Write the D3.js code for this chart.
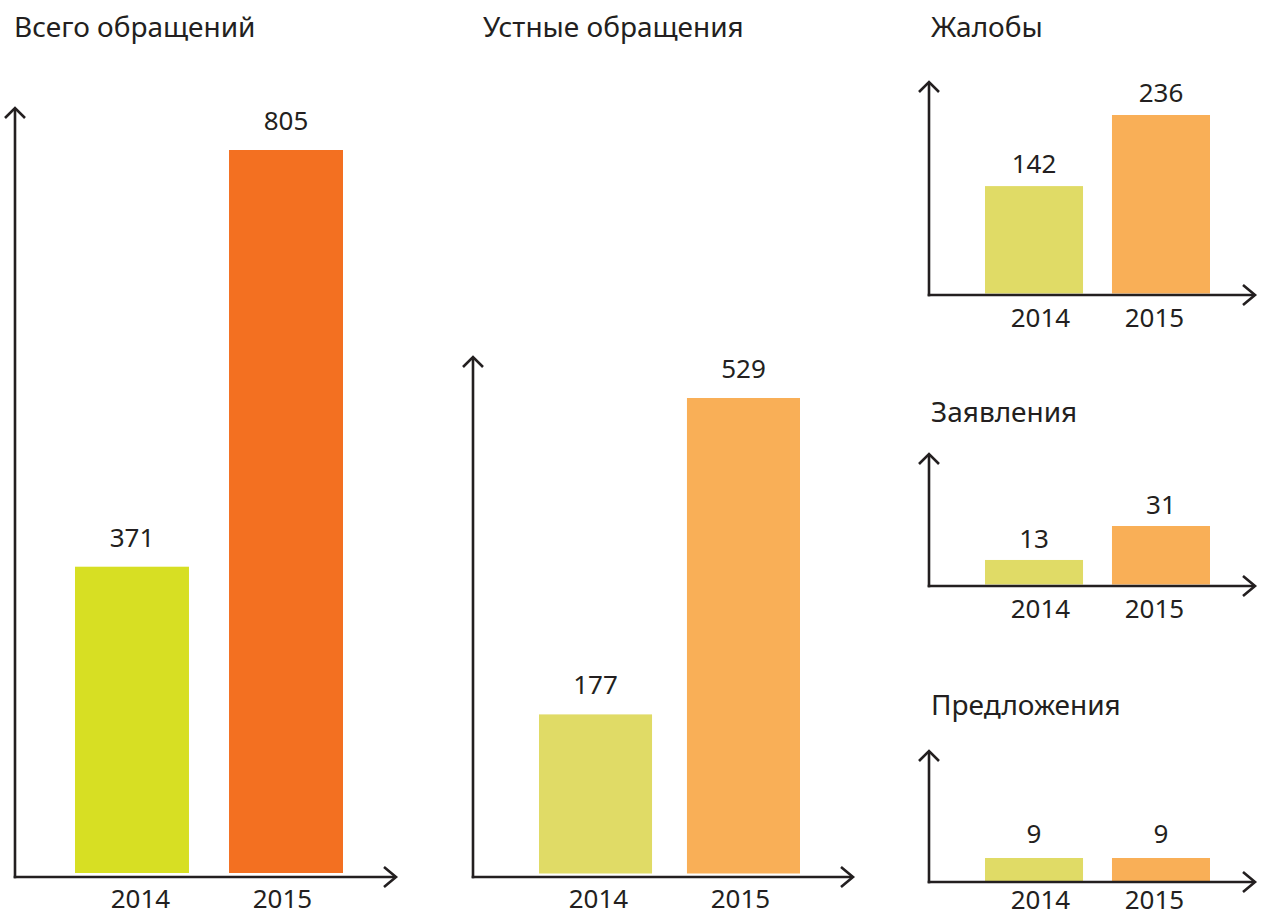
<!DOCTYPE html>
<html><head><meta charset="utf-8">
<script src="https://cdn.jsdelivr.net/npm/d3@7"></script>
<style>body{margin:0;background:#fff}svg{display:block}</style>
</head><body><svg id="c" width="1268" height="916"></svg>
<script>
// ---- data ----
const years = ["2014", "2015"];
const titles = ["Всего обращений", "Устные обращения", "Жалобы", "Заявления", "Предложения"];
const totalValues = [371, 805];
const oralValues = [177, 529];
const complaintValues = [142, 236];
const applicationValues = [13, 31];
const proposalValues = [9, 9];
const seriesValues = [totalValues, oralValues, complaintValues, applicationValues, proposalValues];

// ---- layout / style ----
const ink = "#231f20";
const font = "'Noto Sans', sans-serif";
const layout = [
  {titleX:14, titleY:37, axisX:15, arrowTop:108, axisY:877, arrowRight:396, bars:[75,343], pad:0.26,
   dom:[52,805], rng:[873,150], ticks:[140,282], tickY:908, gap:20, colors:["#d7df23","#f37021"]},
  {titleX:483, titleY:37, axisX:473, arrowTop:357, axisY:877, arrowRight:853, bars:[539,800], pad:0.236,
   dom:[0,529], rng:[873.5,398], ticks:[598,740], tickY:908, gap:20, colors:["#e0db66","#f9af57"]},
  {titleX:931, titleY:37, axisX:929, arrowTop:82, axisY:295, arrowRight:1255, bars:[985,1210], pad:0.228,
   dom:[0,236], rng:[293.5,115], ticks:[1040,1154], tickY:327, gap:13, colors:["#e0db66","#f9af57"]},
  {titleX:931, titleY:422, axisX:929, arrowTop:454, axisY:586, arrowRight:1255, bars:[985,1210], pad:0.228,
   dom:[0,31], rng:[584.5,526], ticks:[1040,1154], tickY:618, gap:12, colors:["#e0db66","#f9af57"]},
  {titleX:931, titleY:715, axisX:929, arrowTop:751, axisY:882, arrowRight:1255, bars:[985,1210], pad:0.228,
   dom:[0,9], rng:[881,858], ticks:[1040,1154], tickY:909, gap:15, colors:["#e0db66","#f9af57"]}
];

const svg = d3.select("#c");

layout.forEach((L, i) => {
  const vals = seriesValues[i];
  const data = years.map((y, j) => ({year: y, value: vals[j], color: L.colors[j]}));
  const g = svg.append("g");

  const x = d3.scaleBand().domain(years).range(L.bars).paddingInner(L.pad).paddingOuter(0);
  const y = d3.scaleLinear().domain(L.dom).range(L.rng);
  const xt = d3.scalePoint().domain(years).range(L.ticks);

  // title
  g.append("text").attr("x", L.titleX).attr("y", L.titleY)
    .attr("font-family", font).attr("font-size", 28).attr("fill", ink).text(titles[i]);

  // bars
  g.selectAll("rect").data(data).join("rect")
    .attr("x", d => x(d.year)).attr("width", x.bandwidth())
    .attr("y", d => y(d.value)).attr("height", d => y(L.dom[0]) - y(d.value))
    .attr("fill", d => d.color);

  // value labels
  g.selectAll("text.val").data(data).join("text").attr("class", "val")
    .attr("x", d => x(d.year) + x.bandwidth() / 2).attr("y", d => y(d.value) - L.gap)
    .attr("text-anchor", "middle").attr("font-family", font).attr("font-size", 26)
    .attr("fill", ink).text(d => d.value);

  // x tick labels via axis
  const ax = g.append("g").attr("transform", `translate(0,${L.tickY})`)
    .call(d3.axisBottom(xt).tickSize(0).tickPadding(0));
  ax.select(".domain").remove();
  ax.selectAll("text").attr("dy", 0).attr("y", 0).attr("font-family", font)
    .attr("font-size", 26).attr("fill", ink);

  // axes with arrows
  const st = {stroke: ink, "stroke-width": 2.6, fill: "none"};
  const line = d3.line();
  const p1 = g.append("path").attr("d", line([[L.axisX, L.arrowTop], [L.axisX, L.axisY + 1.3]]));
  const p2 = g.append("path").attr("d", line([[L.axisX - 1.3, L.axisY], [L.arrowRight, L.axisY]]));
  const a1 = g.append("path").attr("d", line([[L.axisX - 10, L.arrowTop + 10], [L.axisX, L.arrowTop], [L.axisX + 10, L.arrowTop + 10]]));
  const a2 = g.append("path").attr("d", line([[L.arrowRight - 12, L.axisY - 10], [L.arrowRight, L.axisY], [L.arrowRight - 12, L.axisY + 10]]));
  [p1, p2, a1, a2].forEach(p => Object.entries(st).forEach(([k, v]) => p.attr(k, v)));
});
</script>
</body></html>
